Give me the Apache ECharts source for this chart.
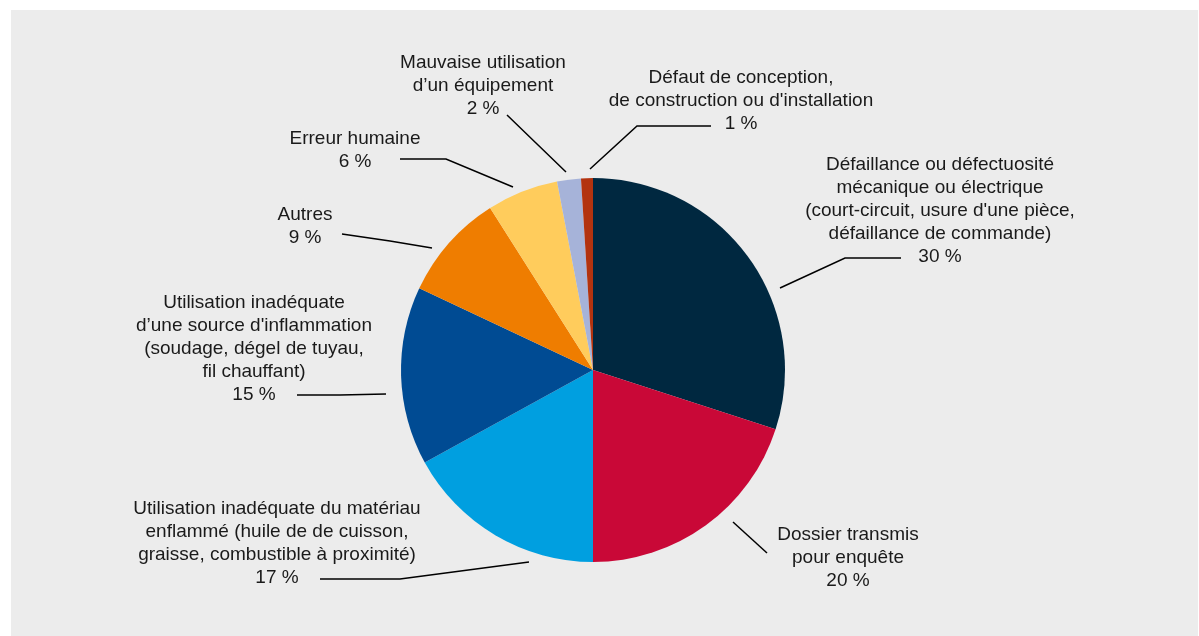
<!DOCTYPE html>
<html>
<head>
<meta charset="utf-8">
<script src="https://cdn.jsdelivr.net/npm/echarts@6/dist/echarts.min.js"></script>
<style>
  html, body { margin: 0; padding: 0; background: #fff; }
  #main { width: 1199px; height: 636px; }
</style>
</head>
<body>
<div id="main"></div>
<script>
// causes (clockwise from 12 o'clock)
var causes = [
  'Défaillance ou défectuosité\nmécanique ou électrique\n(court-circuit, usure d\'une pièce,\ndéfaillance de commande)',
  'Dossier transmis\npour enquête',
  'Utilisation inadéquate du matériau\nenflammé (huile de de cuisson,\ngraisse, combustible à proximité)',
  'Utilisation inadéquate\nd\u2019une source d\'inflammation\n(soudage, dégel de tuyau,\nfil chauffant)',
  'Autres',
  'Erreur humaine',
  'Mauvaise utilisation\nd\u2019un équipement',
  'Défaut de conception,\nde construction ou d\'installation'
];
var shares = [30, 20, 17, 15, 9, 6, 2, 1];
var sliceColors = ['#002840', '#c90837', '#009fe0', '#004b93', '#ef7d00', '#ffcc5c', '#a6b3d9', '#b3330f'];

// label placement (centre of text block) and leader lines
var labelSpots = [
  { x: 940, y: 211, line: [[780, 288], [845, 258], [901, 258]] },
  { x: 848, y: 558, line: [[733, 522], [767, 553], [767, 553]] },
  { x: 277, y: 543, line: [[529, 562], [400, 579], [320, 579]] },
  { x: 254, y: 349, line: [[386, 394], [340, 395], [297, 395]] },
  { x: 305, y: 226, line: [[432, 248], [390, 241], [342, 234]] },
  { x: 355, y: 150, line: [[513, 187], [446, 159], [400, 159]] },
  { x: 483, y: 86, line: [[566, 172], [537, 144], [507, 115]] },
  { x: 741, y: 101, line: [[590, 169], [637, 126], [711, 126]] }
];

var myChart = echarts.init(document.getElementById('main'));

var pieData = causes.map(function (name, i) {
  return { name: name, value: shares[i], itemStyle: { color: sliceColors[i] } };
});

var option = {
  backgroundColor: '#ffffff',
  animation: false,
  graphic: [{
    type: 'rect',
    shape: { x: 11, y: 10, width: 1187, height: 626 },
    style: { fill: '#ececec' },
    z: -10
  }],
  series: [{
    type: 'pie',
    center: [593, 370],
    radius: 192,
    startAngle: 90,
    clockwise: true,
    avoidLabelOverlap: false,
    itemStyle: { borderWidth: 0 },
    label: {
      show: true,
      position: 'outside',
      formatter: '{b}\n{c} %',
      fontFamily: 'Liberation Sans, Arial, sans-serif',
      fontSize: 19,
      lineHeight: 23,
      color: '#1a1a1a',
      align: 'center'
    },
    labelLine: {
      show: true,
      lineStyle: { color: '#000', width: 1.5 }
    },
    labelLayout: function (params) {
      var s = labelSpots[params.dataIndex];
      return {
        x: s.x,
        y: s.y,
        align: 'center',
        verticalAlign: 'middle',
        hideOverlap: false,
        labelLinePoints: s.line
      };
    },
    emphasis: { disabled: true },
    data: pieData
  }]
};

myChart.setOption(option);
</script>
</body>
</html>
